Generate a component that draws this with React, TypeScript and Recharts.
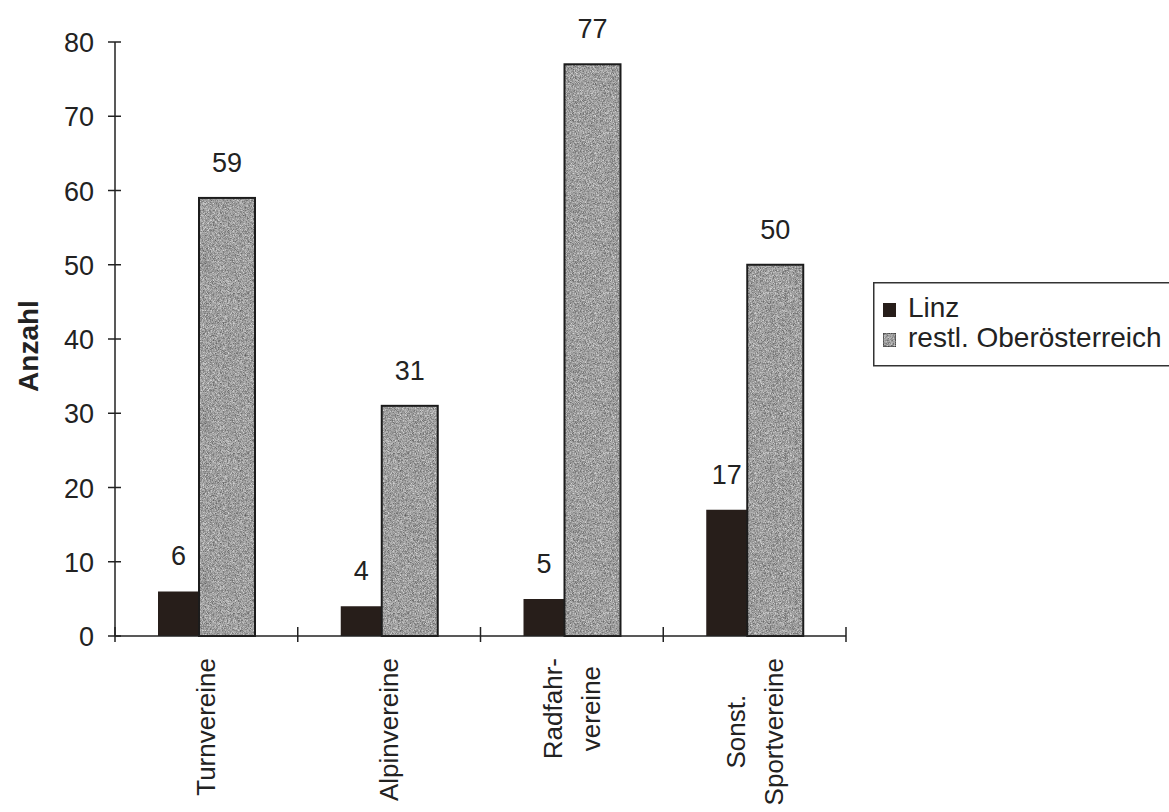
import { Bar, BarChart, LabelList, Legend, XAxis, YAxis } from 'recharts';

// values
const categories = ['Turnvereine', 'Alpinvereine', 'Radfahr-\nvereine', 'Sonst.\nSportvereine'];
const linz = [6, 4, 5, 17];
const restl = [59, 31, 77, 50];
const seriesNames = ['Linz', 'restl. Oberösterreich'];
const yTicks = [0, 10, 20, 30, 40, 50, 60, 70, 80];

const data = categories.map((name, i) => ({ name, linz: linz[i], restl: restl[i] }));

const W = 1169;
const H = 812;
const MARGIN = { top: 42, right: 323, bottom: 6, left: 0 };
const Y_AXIS_W = 115;
const X_AXIS_H = 170;
const PLOT_W = W - MARGIN.left - MARGIN.right - Y_AXIS_W;
const HALF_BAND = PLOT_W / categories.length / 2;

const FONT = '"Liberation Sans", Arial, sans-serif';
const FS = 27;
const CAT_FS = 26;
const LEG_FS = 28;
const INK = '#222';
const DARK = '#271e1a';
const GREY = '#bcbcbc';

let ctx: CanvasRenderingContext2D | null = null;
function textWidth(s: string) {
  if (!ctx) ctx = document.createElement('canvas').getContext('2d');
  if (!ctx) return s.length * 13;
  ctx.font = `${CAT_FS}px ${FONT}`;
  return ctx.measureText(s).width;
}

function YTick(props: any) {
  const { x, y, payload } = props;
  const ax = x + 21;
  return (
    <g>
      <line x1={ax - 7} x2={ax + 6} y1={y} y2={y} stroke={INK} strokeWidth={1.5} />
      <text x={x} y={y} dy={10} textAnchor="end" fontSize={FS} fill={INK} fontFamily={FONT}>
        {payload.value}
      </text>
    </g>
  );
}

function XTick(props: any) {
  const { x, y, payload, index } = props;
  const axisY = y - 22;
  const lines = String(payload.value).split('\n');
  const len = Math.max(...lines.map(textWidth));
  const lh = 38;
  const marks = [x - HALF_BAND];
  if (index === categories.length - 1) marks.push(x + HALF_BAND);
  return (
    <g>
      {marks.map((mx) => (
        <line key={mx} x1={mx} x2={mx} y1={axisY - 9} y2={axisY + 6} stroke={INK} strokeWidth={1.5} />
      ))}
      {lines.map((line, i) => {
        const off = (i - (lines.length - 1) / 2) * lh;
        return (
          <text
            key={i}
            transform={`translate(${x + off},${y}) rotate(-90)`}
            x={-len / 2}
            y={0}
            dy="0.35em"
            textAnchor="middle"
            fontSize={CAT_FS}
            fill={INK}
            fontFamily={FONT}
          >
            {line}
          </text>
        );
      })}
    </g>
  );
}

function RestlBar(props: any) {
  const { x, y, width, height } = props;
  return (
    <g>
      <rect x={x} y={y} width={width} height={height} fill={GREY} filter="url(#grain)" />
      <rect x={x} y={y} width={width} height={height} fill="none" stroke="#1c1c1c" strokeWidth={2} />
    </g>
  );
}

function LegendBox(props: any) {
  const items = props.payload || [];
  return (
    <svg width={300} height={86} style={{ display: 'block' }}>
      <rect x={0.75} y={0.75} width={330} height={83} fill="#fff" stroke="#333" strokeWidth={1.5} />
      {items.map((it: any, i: number) => (
        <g key={it.value}>
          {i === 0 ? (
            <rect x={10} y={21 + i * 30} width={13} height={14} fill={DARK} />
          ) : (
            <rect
              x={10}
              y={21 + i * 30}
              width={13}
              height={14}
              fill={GREY}
              filter="url(#grain)"
              stroke="#1c1c1c"
              strokeWidth={1.5}
            />
          )}
          <text x={35} y={35 + i * 30} fontSize={LEG_FS} fill={INK} fontFamily={FONT}>
            {it.value}
          </text>
        </g>
      ))}
    </svg>
  );
}

export default function App() {
  return (
    <div
      style={{
        position: 'absolute',
        left: 0,
        top: 0,
        width: W,
        height: H,
        overflow: 'hidden',
        background: '#fff',
        fontFamily: FONT,
      }}
    >
      <BarChart width={W} height={H} data={data} margin={MARGIN} barGap={0}>
        <defs>
          <filter id="grain" x="0" y="0" width="1" height="1" colorInterpolationFilters="sRGB">
            <feTurbulence type="fractalNoise" baseFrequency="1.6" numOctaves={1} seed={4} result="noise" />
            <feColorMatrix
              in="noise"
              type="matrix"
              values="1.6 0 0 0 -0.3  1.6 0 0 0 -0.3  1.6 0 0 0 -0.3  0 0 0 0 0.5"
              result="mono"
            />
            <feComposite in="mono" in2="SourceAlpha" operator="in" result="clip" />
            <feMerge>
              <feMergeNode in="SourceGraphic" />
              <feMergeNode in="clip" />
            </feMerge>
          </filter>
        </defs>
        <XAxis
          dataKey="name"
          height={X_AXIS_H}
          interval={0}
          tickSize={0}
          tickMargin={22}
          tickLine={false}
          axisLine={{ stroke: INK, strokeWidth: 1.5 }}
          tick={<XTick />}
        />
        <YAxis
          width={Y_AXIS_W}
          domain={[0, 80]}
          ticks={yTicks}
          interval={0}
          tickSize={0}
          tickMargin={21}
          tickLine={false}
          axisLine={{ stroke: INK, strokeWidth: 1.5 }}
          tick={<YTick />}
          label={{
            value: 'Anzahl',
            angle: -90,
            position: 'center',
            dx: -29,
            dy: 7,
            fontSize: LEG_FS,
            fontWeight: 'bold',
            fill: INK,
            fontFamily: FONT,
          }}
        />
        <Legend
          layout="vertical"
          align="center"
          verticalAlign="middle"
          content={<LegendBox />}
          wrapperStyle={{ left: 873, top: 282, width: 300, height: 86 }}
        />
        <Bar dataKey="linz" name={seriesNames[0]} fill={DARK} barSize={41} isAnimationActive={false}>
          <LabelList dataKey="linz" position="top" offset={26} fontSize={FS} fill={INK} fontFamily={FONT} />
        </Bar>
        <Bar
          dataKey="restl"
          name={seriesNames[1]}
          fill={GREY}
          barSize={56}
          shape={<RestlBar />}
          isAnimationActive={false}
        >
          <LabelList dataKey="restl" position="top" offset={26} fontSize={FS} fill={INK} fontFamily={FONT} />
        </Bar>
      </BarChart>
    </div>
  );
}
